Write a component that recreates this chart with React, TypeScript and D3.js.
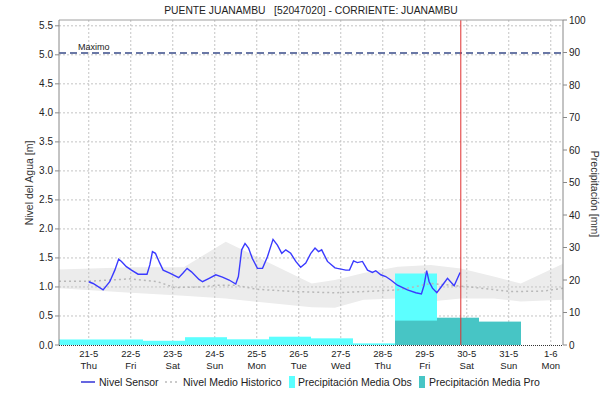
import React from "react"
import * as d3 from "d3"

// hours from 21-5 00:00
const sensorHours = [0, 2.5, 8.2, 12, 14.9, 17.1, 18.7, 21.5, 24.4, 28.2, 33.3, 34.9, 36.4, 38.1, 40.6, 42.5, 46.3, 51.4, 53.9, 56.2, 58.7, 63, 65, 68.8, 72.6, 76.4, 80.2, 84, 85.5, 87.4, 89.3, 91.3, 93.5, 96.4, 99.3, 102.1, 105.3, 107.8, 110.3, 112.6, 115.4, 118.3, 121.1, 124, 126.9, 129.3, 131.3, 133.1, 136.4, 140.7, 142.1, 146.9, 149, 151.3, 153.5, 156.4, 159.3, 162.1, 164, 166.9, 169.7, 172.6, 176.4, 182.1, 186.9, 190.1, 191.6, 193.1, 194.5, 196.4, 198.9, 202.1, 205, 208.8, 212.2]
const sensorLevel = [1.09, 1.06, 0.95, 1.09, 1.29, 1.48, 1.44, 1.35, 1.29, 1.22, 1.22, 1.38, 1.61, 1.58, 1.41, 1.29, 1.24, 1.16, 1.24, 1.32, 1.26, 1.13, 1.09, 1.15, 1.21, 1.17, 1.12, 1.05, 1.18, 1.64, 1.75, 1.67, 1.49, 1.32, 1.32, 1.52, 1.82, 1.72, 1.58, 1.64, 1.58, 1.44, 1.34, 1.41, 1.58, 1.67, 1.61, 1.64, 1.44, 1.33, 1.32, 1.29, 1.29, 1.45, 1.42, 1.44, 1.29, 1.25, 1.28, 1.21, 1.18, 1.12, 1.03, 0.95, 0.9, 0.88, 1.03, 1.28, 1.09, 0.98, 0.9, 1.03, 1.15, 1.02, 1.25]

const bandHours = [-17, 24, 54.3, 78.3, 127.4, 140.6, 157.1, 176.6, 195.4, 212.6, 231.4, 246.9, 271]
const bandLow = [0.98, 0.9, 0.85, 0.8, 0.65, 0.64, 0.78, 0.8, 0.75, 0.8, 0.8, 0.75, 0.78]
const bandHigh = [1.3, 1.34, 1.34, 1.78, 1.06, 1.12, 1.24, 1.35, 1.38, 1.32, 1.18, 1.06, 1.4]

const meanHours = [-17, 0.6, 24, 39.4, 49, 64, 73.7, 84, 96, 118.3, 140.6, 157.1, 176.6, 185.7, 195.4, 206.9, 217.7, 224, 241, 260, 271]
const meanLevel = [1.1, 1.1, 1.14, 1.09, 0.99, 1.0, 1.03, 1.03, 0.96, 0.92, 0.9, 0.92, 0.95, 1.0, 1.06, 1.03, 1.0, 0.98, 0.92, 0.93, 0.98]

// daily precipitation, days starting 20-5 07:00
const precipObs = [1.7, 1.7, 1.3, 2.4, 1.75, 2.55, 2.05, 0.5, 22.0, 0, 0, 0]
const precipPro = [0, 0, 0, 0, 0, 0, 0, 0, 7.5, 8.4, 7.2, 0]

const dayLabels = ["21-5", "22-5", "23-5", "24-5", "25-5", "26-5", "27-5", "28-5", "29-5", "30-5", "31-5", "1-6"]
const weekdays = ["Thu", "Fri", "Sat", "Sun", "Mon", "Tue", "Wed", "Thu", "Fri", "Sat", "Sun", "Mon"]
const levelTicks = [0, 0.5, 1, 1.5, 2, 2.5, 3, 3.5, 4, 4.5, 5, 5.5]
const precipTicks = [0, 10, 20, 30, 40, 50, 60, 70, 80, 90, 100]

const maximo = 5.03
const nowHour = 212.6

const W = 608
const H = 400
const m = { left: 59, right: 563, top: 20, bottom: 345 }
const font = "'Liberation Sans', Arial, sans-serif"

export default function App() {
  const x = d3.scaleLinear().domain([-17, 271]).range([m.left, m.right])
  const y = d3.scaleLinear().domain([0, 5.6]).range([m.bottom, m.top])
  const yp = d3.scaleLinear().domain([0, 100]).range([m.bottom, m.top])

  const band = d3
    .area<number>()
    .x((i) => x(bandHours[i]))
    .y0((i) => y(bandLow[i]))
    .y1((i) => y(bandHigh[i]))
  const meanLine = d3
    .line<number>()
    .x((i) => x(meanHours[i]))
    .y((i) => y(meanLevel[i]))
  const sensorLine = d3
    .line<number>()
    .x((i) => x(sensorHours[i]))
    .y((i) => y(sensorLevel[i]))

  const dayX = (i: number) => x(i * 24)
  const barX0 = (i: number) => x(-17 + i * 24)
  const barW = x(7) - x(-17)

  return (
    <svg width={W} height={H} style={{ position: "absolute", left: 0, top: 0, background: "#fff" }} fontFamily={font}>
      <text x={(m.left + m.right) / 2} y={14} fontSize={10.3} fill="#222" textAnchor="middle" xmlSpace="preserve">
        PUENTE JUANAMBU   [52047020] - CORRIENTE: JUANAMBU
      </text>

      {/* historic band */}
      <path d={band(d3.range(bandHours.length)) ?? ""} fill="#ececec" />

      {/* grid */}
      {levelTicks.slice(1).map((t) => (
        <line key={"h" + t} x1={m.left} x2={m.right} y1={y(t)} y2={y(t)} stroke="#c4c4c4" strokeDasharray="2,2" />
      ))}
      {dayLabels.map((d, i) => (
        <line key={"v" + d} x1={dayX(i)} x2={dayX(i)} y1={m.top} y2={m.bottom} stroke="#c4c4c4" strokeDasharray="2,2" />
      ))}

      {/* precipitation */}
      {precipObs.map((v, i) =>
        v > 0 ? <rect key={"o" + i} x={barX0(i)} width={barW} y={yp(v)} height={yp(0) - yp(v)} fill="#5cffff" /> : null
      )}
      {precipPro.map((v, i) =>
        v > 0 ? <rect key={"p" + i} x={barX0(i)} width={barW} y={yp(v)} height={yp(0) - yp(v)} fill="#47c5c5" /> : null
      )}

      <path d={meanLine(d3.range(meanHours.length)) ?? ""} fill="none" stroke="#b8b8b8" strokeWidth={1.5} strokeDasharray="2,3" />
      <path d={sensorLine(d3.range(sensorHours.length)) ?? ""} fill="none" stroke="#3a3aff" strokeWidth={1.4} />

      {/* maximo */}
      <line x1={m.left} x2={m.right} y1={y(maximo)} y2={y(maximo)} stroke="#6a78a6" strokeWidth={2} strokeDasharray="7,4" />
      <text x={78} y={50} fontSize={9} fill="#222">Maximo</text>

      {/* now */}
      <line x1={x(nowHour)} x2={x(nowHour)} y1={m.top} y2={m.bottom} stroke="#e03030" strokeWidth={1} />

      {/* frame */}
      <line x1={m.left} x2={m.right} y1={m.top} y2={m.top} stroke="#a0a0a0" />
      <line x1={m.left} x2={m.left} y1={m.top} y2={m.bottom} stroke="#888" />
      <line x1={m.right} x2={m.right} y1={m.top} y2={m.bottom} stroke="#888" />
      <line x1={m.left} x2={m.right} y1={m.bottom + 0.5} y2={m.bottom + 0.5} stroke="#333" strokeDasharray="1,1" />

      {/* left axis */}
      {levelTicks.map((t) => (
        <g key={"l" + t}>
          <line x1={m.left - 4} x2={m.left} y1={y(t)} y2={y(t)} stroke="#888" />
          <text x={m.left - 6} y={y(t) + 3.5} fontSize={10} textAnchor="end" fill="#222">{t.toFixed(1)}</text>
        </g>
      ))}
      {/* right axis */}
      {precipTicks.map((t) => (
        <g key={"r" + t}>
          <line x1={m.right} x2={m.right + 4} y1={yp(t)} y2={yp(t)} stroke="#888" />
          <text x={m.right + 6} y={yp(t) + 3.5} fontSize={10} fill="#222">{t}</text>
        </g>
      ))}
      {/* x axis */}
      {dayLabels.map((d, i) => (
        <g key={"x" + d}>
          <text x={dayX(i)} y={357} fontSize={9.5} textAnchor="middle" fill="#222">{d}</text>
          <text x={dayX(i)} y={369} fontSize={9.5} textAnchor="middle" fill="#222">{weekdays[i]}</text>
        </g>
      ))}

      <text transform={`translate(33,183) rotate(-90)`} fontSize={10.5} textAnchor="middle" fill="#333">
        Nivel del Agua [m]
      </text>
      <text transform={`translate(591,194) rotate(90)`} fontSize={10.5} textAnchor="middle" fill="#333">
        Precipitación [mm]
      </text>

      {/* legend */}
      <g fontSize={10.5} fill="#222">
        <line x1={81} x2={95} y1={382} y2={382} stroke="#0000cc" strokeWidth={1.2} />
        <text x={99} y={386}>Nivel Sensor</text>
        <line x1={165} x2={179} y1={382} y2={382} stroke="#bbb" strokeWidth={1.5} strokeDasharray="2,3" />
        <text x={183} y={386}>Nivel Medio Historico</text>
        <rect x={289} y={376} width={6} height={12} fill="#5cffff" />
        <text x={298} y={386}>Precipitación Media Obs</text>
        <rect x={419} y={376} width={6} height={12} fill="#47c5c5" />
        <text x={429} y={386}>Precipitación Media Pro</text>
      </g>
    </svg>
  )
}
